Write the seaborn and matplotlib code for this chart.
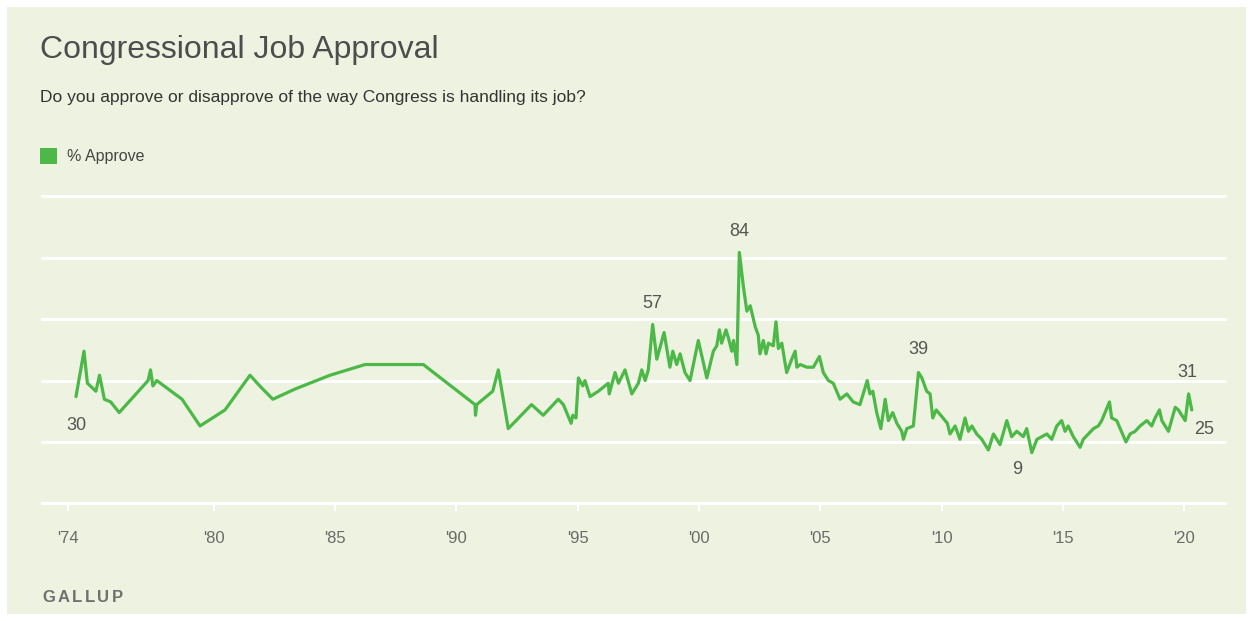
import numpy as np
import pandas as pd
import matplotlib
matplotlib.use("Agg")
import matplotlib.pyplot as plt
from matplotlib.patches import Rectangle
import seaborn as sns

# Gallup: "Do you approve or disapprove of the way Congress is handling its job?"
years = [
    1974.33, 1974.66, 1974.80, 1975.15, 1975.30, 1975.50, 1975.76, 1976.11,
    1977.30, 1977.40, 1977.50, 1977.66, 1978.70, 1979.44, 1980.47, 1981.50,
    1981.90, 1982.44, 1983.40, 1984.80, 1986.24, 1988.64, 1990.77, 1990.79,
    1990.84, 1991.50, 1991.73, 1992.14, 1993.10, 1993.58, 1994.20, 1994.41,
    1994.73, 1994.80, 1994.93, 1995.03, 1995.21, 1995.30, 1995.51, 1995.85,
    1996.26, 1996.30, 1996.54, 1996.68, 1996.95, 1997.23, 1997.50, 1997.64,
    1997.78, 1997.91, 1998.09, 1998.26, 1998.56, 1998.80, 1998.92, 1999.08,
    1999.22, 1999.42, 1999.63, 1999.97, 2000.32, 2000.59, 2000.73, 2000.84,
    2000.93, 2001.11, 2001.21, 2001.35, 2001.42, 2001.56, 2001.66, 2001.83,
    2001.97, 2002.11, 2002.32, 2002.44, 2002.51, 2002.65, 2002.76, 2002.86,
    2003.06, 2003.17, 2003.27, 2003.41, 2003.61, 2003.82, 2003.96, 2004.03,
    2004.17, 2004.44, 2004.71, 2004.96, 2005.12, 2005.33, 2005.53, 2005.81,
    2006.09, 2006.35, 2006.63, 2006.93, 2007.04, 2007.16, 2007.32, 2007.49,
    2007.67, 2007.80, 2007.98, 2008.15, 2008.35, 2008.42, 2008.56, 2008.83,
    2009.04, 2009.18, 2009.38, 2009.52, 2009.63, 2009.77, 2009.96, 2010.23,
    2010.34, 2010.55, 2010.75, 2010.96, 2011.10, 2011.24, 2011.44, 2011.65,
    2011.92, 2012.13, 2012.40, 2012.68, 2012.88, 2013.09, 2013.36, 2013.50,
    2013.71, 2013.92, 2014.33, 2014.53, 2014.74, 2014.94, 2015.08, 2015.21,
    2015.42, 2015.70, 2015.83, 2016.04, 2016.25, 2016.45, 2016.59, 2016.91,
    2017.00, 2017.21, 2017.59, 2017.76, 2017.97, 2018.17, 2018.45, 2018.65,
    2018.79, 2018.97, 2019.07, 2019.34, 2019.62, 2019.75, 2020.03, 2020.17,
    2020.30,
]
approve = [
    30, 47, 35, 32, 38, 29, 28, 24,
    36, 40, 34, 36, 29, 19, 25, 38,
    34, 29, 33, 38, 42, 42, 27, 23,
    27, 32, 40, 18, 27, 23, 29, 27,
    20, 23, 22, 37, 34, 36, 30, 32,
    35, 31, 39, 35, 40, 31, 35, 40,
    36, 40, 57, 44, 54, 41, 47, 42,
    46, 39, 36, 51, 37, 47, 49, 55,
    50, 55, 52, 47, 51, 42, 84, 71,
    62, 64, 56, 53, 46, 51, 46, 50,
    49, 58, 48, 50, 39, 44, 47, 41,
    42, 41, 41, 45, 39, 36, 35, 29,
    31, 28, 27, 36, 31, 32, 24, 18,
    29, 21, 24, 20, 17, 14, 18, 19,
    39, 37, 32, 31, 22, 25, 23, 20,
    16, 19, 14, 22, 17, 19, 16, 14,
    10, 16, 12, 21, 15, 17, 15, 18,
    9, 14, 16, 14, 19, 21, 17, 19,
    15, 11, 14, 16, 18, 19, 21, 28,
    22, 21, 13, 16, 17, 19, 21, 19,
    22, 25, 21, 17, 26, 25, 21, 31,
    25,
]

tick_years = [1974, 1980, 1985, 1990, 1995, 2000, 2005, 2010, 2015, 2020]
tick_labels = ["'74", "'80", "'85", "'90", "'95", "'00", "'05", "'10", "'15", "'20"]

# points that carry a value label, with the label offset in pixels
labeled_years = [1974.33, 1998.09, 2001.66, 2009.04, 2013.71, 2020.17, 2020.30]
label_offsets = [(0, -29), (0, 21), (0, 21), (0, 23), (-15, -17), (-1, 21), (12, -20)]

title = "Congressional Job Approval"
subtitle = "Do you approve or disapprove of the way Congress is handling its job?"
series_name = "% Approve"
source = "GALLUP"

BG = "#edf3e0"
GREEN = "#4cb847"
W, H = 1253, 621

sns.set_style("white")
plt.rcParams["font.family"] = ["Liberation Sans", "DejaVu Sans"]

fig = plt.figure(figsize=(W / 100, H / 100), dpi=100, facecolor="white")
fig.patches.append(Rectangle((7 / W, 7 / H), (W - 14) / W, (H - 14) / H,
                             transform=fig.transFigure, facecolor=BG,
                             edgecolor="none", zorder=-10))

ax = fig.add_axes([42 / W, 1 - 503.4 / H, 1183 / W, 307.1 / H])
ax.set_facecolor("none")

df = pd.DataFrame({"year": years, "approve": approve})
sns.lineplot(data=df, x="year", y="approve", ax=ax, color=GREEN,
             linewidth=2.3, solid_joinstyle="round", zorder=3)

ax.set_xlim(1972.93, 2021.67)
ax.set_ylim(-10, 105)
ax.set_yticks(np.arange(-10, 106, 23))
ax.grid(axis="y", color="white", linewidth=2.2)
ax.grid(axis="x", visible=False)
for gl in ax.get_ygridlines():
    gl.set_clip_on(False)
ax.tick_params(axis="y", left=False, labelleft=False)
ax.set_xticks(tick_years)
ax.set_xticklabels(tick_labels)
ax.tick_params(axis="x", direction="out", length=6, width=1.5, color="white",
               pad=14, labelsize=12, labelcolor="#6a6a6a", bottom=True)
for s in ax.spines.values():
    s.set_visible(False)
ax.set_xlabel("")
ax.set_ylabel("")

val_by_year = dict(zip(years, approve))
for yr, (dx, dy) in zip(labeled_years, label_offsets):
    v = val_by_year[yr]
    ax.annotate(str(v), (yr, v), xytext=(dx, dy), textcoords="offset pixels",
                ha="center", va="center", fontsize=13, color="#555555",
                annotation_clip=False)

fig.text(40 / W, 1 - 58 / H, title, fontsize=23, color="#4d4d4d",
         va="baseline", ha="left")
fig.text(40 / W, 1 - 102 / H, subtitle, fontsize=12.5, color="#333333",
         va="baseline", ha="left")
fig.patches.append(Rectangle((40 / W, 1 - 164 / H), 17 / W, 16 / H,
                             transform=fig.transFigure, facecolor=GREEN,
                             edgecolor="none"))
fig.text(67 / W, 1 - 161 / H, series_name, fontsize=11.5, color="#444444",
         va="baseline", ha="left")

# letter-spaced source credit
x = 42
renderer = fig.canvas.get_renderer()
for ch in source:
    t = fig.text(x / W, 1 - 602 / H, ch, fontsize=12, fontweight="bold",
                 color="#707070", va="baseline", ha="left")
    x += t.get_window_extent(renderer).width + 2.5

fig.savefig("out.png", dpi=100, facecolor=fig.get_facecolor())
